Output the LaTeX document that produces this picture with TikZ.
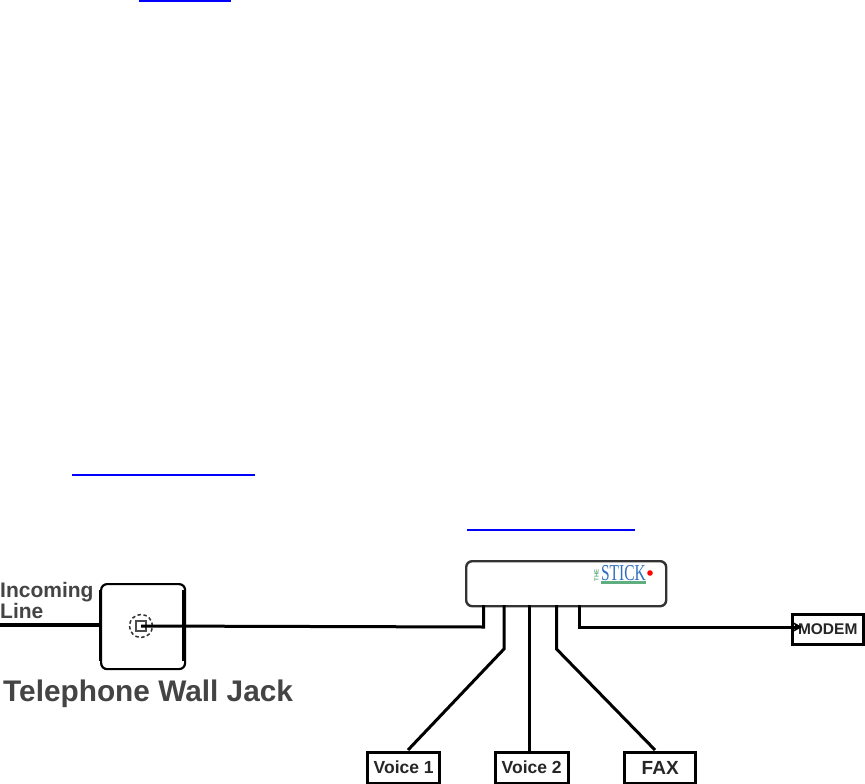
\documentclass[tikz,border=0pt]{standalone}
\usepackage{fontspec}
\setmainfont{Liberation Sans}
\newfontfamily\logofont{Liberation Serif}
\usetikzlibrary{arrows.meta}
\definecolor{labelgrey}{HTML}{444444}
\definecolor{logoblue}{HTML}{2F6FC0}
\definecolor{logogreen}{HTML}{5FAE7F}
\tikzset{
  wire/.style={draw=black,line width=3pt},
  link/.style={draw=blue,line width=2pt},
  termbox/.style={draw=black,line width=3.4pt,fill=white,inner sep=0pt,font=\bfseries\fontsize{17.5}{17.5}\selectfont,text=black!85},
  roundbox/.style={draw=black!80,line width=2.4pt,fill=white,rounded corners=6pt,inner sep=0pt},
}
\begin{document}
\begin{tikzpicture}[x=1pt,y=-1pt]
\useasboundingbox (0,0) rectangle (865,784);
\fill[white] (0,0) rectangle (865,784);
% link underlines
\coordinate (l1a) at (139,1); \coordinate (l1b) at (231,1);
\coordinate (l2a) at (72,475); \coordinate (l2b) at (255,475);
\coordinate (l3a) at (467,530); \coordinate (l3b) at (635,530);
\draw[link] (l1a) -- (l1b);
\draw[link] (l2a) -- (l2b);
\draw[link] (l3a) -- (l3b);
% wall jack
\node[roundbox,minimum width=84pt,minimum height=85pt,anchor=north west,draw=black,line width=2.2pt] (jack) at (100,583) {};
\coordinate (linein) at (0,625);
\coordinate (jackc) at (141,626);
\draw[draw=black,line width=4.2pt] (linein) -- (jack.west |- linein);
\draw[draw=black,line width=2.8pt] (100.3,590) -- (100.3,661);
\draw[draw=black,line width=3.4pt] (183.8,590) -- (183.8,661);
\draw[draw=black!80,line width=1.5pt,dash pattern=on 3.5pt off 2.5pt] (jackc) circle (11.5pt);
\draw[draw=black!70,line width=1.4pt] (136,621) rectangle (146,631);
\node[anchor=base west,inner sep=0pt,font=\bfseries\fontsize{21}{21}\selectfont,text=labelgrey] (inc) at (0,597) {Incoming};
\node[anchor=base west,inner sep=0pt,font=\bfseries\fontsize{21}{21}\selectfont,text=labelgrey] (lin) at (0,618) {Line};
\node[anchor=base west,inner sep=0pt,font=\bfseries\fontsize{29.8}{30}\selectfont,text=labelgrey] (twj) at (3,701) {Telephone Wall Jack};
% splitter
\node[roundbox,minimum width=200pt,minimum height=45pt,anchor=north west] (stick) at (465,560) {};
\node[anchor=base west,inner sep=0pt,text=logoblue,xscale=0.68,font=\logofont\fontsize{22.7}{23}\selectfont] (logo) at (601,580) {STICK};
\fill[logogreen] (601,581) rectangle (646,584);
\node[rotate=90,inner sep=0pt,text=logogreen,font=\bfseries\fontsize{6}{6}\selectfont] (the) at (596.5,575) {THE};
\fill[red] (650,573) circle (2.8pt);
% terminals
\node[termbox,minimum width=72pt,minimum height=31pt,anchor=north west] (v1) at (366,750.5) {Voice 1};
\node[termbox,minimum width=73pt,minimum height=31pt,anchor=north west] (v2) at (493.5,750.5) {\raisebox{1.5pt}{Voice 2}};
\node[termbox,minimum width=71pt,minimum height=31pt,anchor=north west,font=\bfseries\fontsize{19}{19}\selectfont] (fax) at (623,750.5) {FAX};
\node[termbox,minimum width=71pt,minimum height=30pt,anchor=north west,font=\bfseries\fontsize{15.5}{15.5}\selectfont] (modem) at (790.5,612.5) {MODEM};
% wires
\coordinate (s1) at (483.5,605); \coordinate (s2) at (504,605); \coordinate (s3) at (529,605); \coordinate (s4) at (556.5,605); \coordinate (s5) at (579,605);
\coordinate (b2) at (504,649); \coordinate (b4) at (556.5,649);
\draw[wire] (s1) -- (483.5,627) -- (jackc);
\draw[wire] (s2) -- (b2) -- (408,750);
\draw[wire] (s3) -- (v2.north -| s3);
\draw[wire] (s4) -- (b4) -- (655,750);
\draw[wire,-{Stealth[length=9pt,width=10pt]}] (s5) -- (579,627) -- (802,627);
\end{tikzpicture}
\end{document}
